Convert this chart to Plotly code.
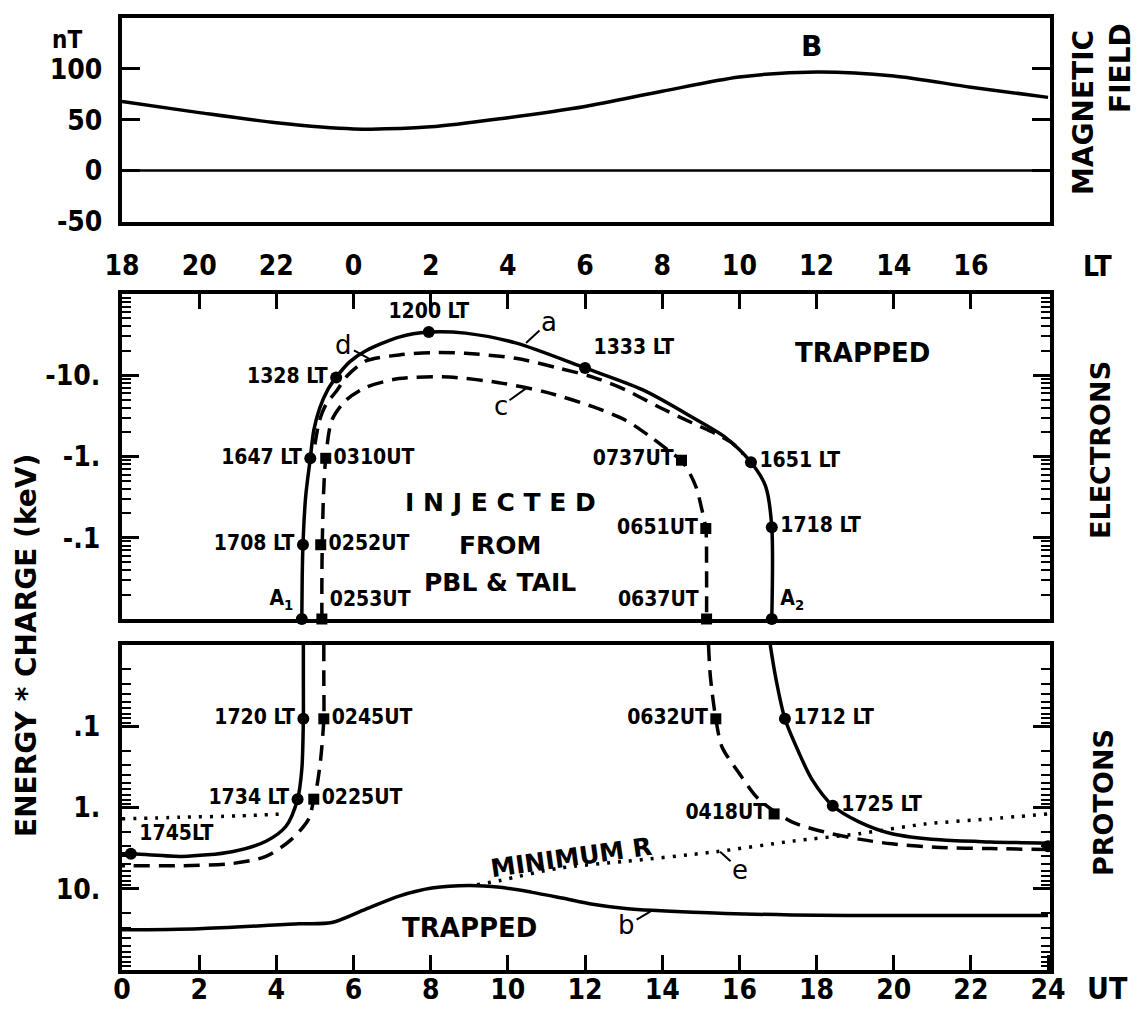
import numpy as np
import plotly.graph_objects as go

# Browser page has an 8px body margin; the figure is sized to fit inside it.
OFF = 8
W, H = 1142 - OFF, 1011 - OFF

# ---------------- DATA ----------------
# Top panel: magnetic field B (nT) versus UT (h)
b_ut = [0, 2, 4, 6, 8, 10, 12, 14, 16, 18, 20, 22, 24]
b_nt = [68, 57, 47, 41, 43, 52, 63, 78, 92, 97, 93, 82, 72]
zero_ut = [0, 24]
zero_nt = [0, 0]

# Middle panel: electrons, |energy*charge| (keV); electrons are negative
elec_a_ut = [4.66, 4.67, 4.69, 4.76, 4.88, 4.97, 5.12, 5.33, 5.55, 5.9, 6.32, 7.18, 7.95,
             8.9, 10.2, 12.0, 13.5, 14.8, 15.65, 16.3, 16.68, 16.84, 16.84]
elec_a_kev = [0.01, 0.032, 0.082, 0.32, 0.95, 2.1, 3.9, 6.6, 9.4, 14.6, 20, 29.5, 34,
              33, 25, 12.3, 6.6, 3.0, 1.7, 0.85, 0.43, 0.135, 0.01]

elec_c_ut = [5.18, 5.18, 5.19, 5.22, 5.28, 5.44, 5.8, 6.32, 7.18, 8.47, 9.77, 10.98, 12.2,
             13.05, 13.7, 14.15, 14.55, 14.87, 15.03, 15.13, 15.15, 15.15]
elec_c_kev = [0.01, 0.032, 0.081, 0.32, 0.95, 2.8, 4.9, 7.1, 9.1, 9.5, 8.1, 6.2, 4.1,
              2.8, 1.74, 1.2, 0.83, 0.43, 0.22, 0.13, 0.041, 0.01]

elec_d_ut = [5.0, 5.12, 5.3, 5.55, 5.85, 6.32, 7.18, 8.03, 8.9, 10.2, 11.3, 12.2, 13.05,
             13.9, 14.77, 15.39, 15.8, 16.1]
elec_d_kev = [1.41, 2.8, 4.5, 6.3, 10, 15, 17.8, 19, 18.6, 16.2, 12.3, 9.5, 6.6,
              4.1, 2.6, 1.9, 1.48, 1.07]

elec_circle_labels = ["A<sub>1</sub>", "1708 LT", "1647 LT", "1328 LT", "1200 LT",
                      "1333 LT", "1651 LT", "1718 LT", "A<sub>2</sub>"]
elec_circle_ut = [4.66, 4.69, 4.88, 5.55, 7.95, 12.0, 16.3, 16.84, 16.84]
elec_circle_kev = [0.01, 0.082, 0.95, 9.4, 34, 12.3, 0.85, 0.135, 0.01]

elec_square_labels = ["0253UT", "0252UT", "0310UT", "0737UT", "0651UT", "0637UT"]
elec_square_ut = [5.18, 5.15, 5.28, 14.5, 15.13, 15.15]
elec_square_kev = [0.01, 0.082, 0.95, 0.9, 0.13, 0.01]

# Bottom panel: protons, energy*charge (keV)
prot_a_left_ut = [4.70, 4.70, 4.70, 4.66, 4.55, 4.25, 3.73, 2.85, 1.55, 0.23, 0]
prot_a_left_kev = [0.01, 0.025, 0.081, 0.34, 0.79, 1.7, 2.6, 3.5, 4.0, 3.7, 3.7]
prot_a_right_ut = [16.8, 16.94, 17.18, 17.54, 17.88, 18.42, 19.1, 19.95, 21.2, 22.5, 24]
prot_a_right_kev = [0.01, 0.025, 0.081, 0.21, 0.45, 0.95, 1.5, 2.1, 2.5, 2.65, 2.75]

prot_d_left_ut = [5.23, 5.23, 5.23, 5.15, 5.05, 4.97, 4.84, 4.4, 3.73, 2.85, 1.55, 0.27, 0]
prot_d_left_kev = [0.01, 0.025, 0.081, 0.25, 0.55, 0.79, 1.38, 2.45, 4.0, 4.9, 5.2, 5.2, 5.2]
prot_d_right_ut = [15.2, 15.25, 15.39, 15.55, 15.98, 16.5, 17.36, 18.2, 19.1, 19.95, 21.2, 22.5, 24]
prot_d_right_kev = [0.01, 0.025, 0.081, 0.18, 0.37, 0.79, 1.5, 2.0, 2.45, 2.8, 3.1, 3.2, 3.3]

prot_e_left_ut = [0, 1.5, 3.0, 4.2]
prot_e_left_kev = [1.38, 1.32, 1.27, 1.2]
prot_e_right_ut = [9.2, 9.8, 11.3, 13.05, 15.4, 17.36, 19.1, 20.8, 22.5, 24]
prot_e_right_kev = [8.9, 7.9, 5.6, 4.6, 3.5, 2.6, 2.1, 1.6, 1.38, 1.2]

prot_b_ut = [0, 2, 4.6, 5.44, 6.32, 7.18, 8.03, 9.0, 9.8, 10.6, 11.4, 12.2, 13.05, 14.8, 17.36, 20, 24]
prot_b_kev = [32, 31, 27, 26, 17.8, 12.3, 9.8, 9.1, 9.6, 11.0, 13.0, 15.5, 17.5, 19.5, 21, 21.4, 21.4]

prot_circle_labels = ["1720 LT", "1734 LT", "1745LT", "1712 LT", "1725 LT"]
prot_circle_ut = [4.70, 4.55, 0.23, 17.18, 18.42]
prot_circle_kev = [0.081, 0.79, 3.7, 0.081, 0.95]
prot_end_ut = [24]
prot_end_kev = [3.0]

prot_square_labels = ["0245UT", "0225UT", "0632UT", "0418UT"]
prot_square_ut = [5.23, 4.97, 15.39, 16.9]
prot_square_kev = [0.081, 0.79, 0.081, 1.2]

# Axis ticks
ut_ticks = list(range(0, 25, 2))
lt_tick_ut = list(range(0, 23, 2))
lt_tick_labels = ["18", "20", "22", "0", "2", "4", "6", "8", "10", "12", "14", "16"]
elec_tickvals = [0.1, 1, 10]
elec_ticktext = ["-.1", "-1.", "-10."]
prot_tickvals = [0.1, 1, 10]
prot_ticktext = [".1", "1.", "10."]
b_tickvals = [-50, 0, 50, 100]
b_ticktext = ["-50", "0", "50", "100"]

# ---------------- FIGURE ----------------
FONT = "Liberation Sans Narrow, DejaVu Sans Condensed, Arial Narrow, Liberation Sans, sans-serif"
WIDE = "DejaVu Sans, Liberation Sans, sans-serif"

fig = go.Figure()


def px_x(p):
    return (p - OFF) / W


def px_y(p):
    return 1 - (p - OFF) / H


def add_line(x, y, xa, ya, dash="solid", width=3.5):
    fig.add_trace(go.Scatter(
        x=x, y=y, xaxis=xa, yaxis=ya, mode="lines",
        line=dict(color="black", width=width, dash=dash, shape="spline", smoothing=0.8),
        showlegend=False, hoverinfo="skip"))


def add_markers(x, y, labels, positions, xa, ya, symbol):
    fig.add_trace(go.Scatter(
        x=x, y=y, xaxis=xa, yaxis=ya, mode="markers+text" if labels else "markers",
        marker=dict(symbol=symbol, size=12 if symbol == "circle" else 11, color="black"),
        text=labels, textposition=positions,
        textfont=dict(family=FONT, size=21, color="black", weight="bold"),
        cliponaxis=False, showlegend=False, hoverinfo="skip"))


DASH = "16px,9px"
DOT = "3px,8px"

# top panel
add_line(zero_ut, zero_nt, "x3", "y3", width=2.5)
add_line(b_ut, b_nt, "x3", "y3", width=3.5)

# middle panel
add_line(elec_a_ut, elec_a_kev, "x2", "y2")
add_line(elec_d_ut, elec_d_kev, "x2", "y2", dash=DASH, width=3.5)
add_line(elec_c_ut, elec_c_kev, "x2", "y2", dash=DASH, width=3.5)
add_markers(elec_circle_ut, elec_circle_kev, elec_circle_labels,
            ["top left", "middle left", "middle left", "middle left", "top center",
             "top right", "middle right", "middle right", "top right"], "x2", "y2", "circle")
add_markers(elec_square_ut, elec_square_kev, elec_square_labels,
            ["top right", "middle right", "middle right", "middle left", "middle left", "top left"],
            "x2", "y2", "square")

# bottom panel
add_line(prot_a_left_ut, prot_a_left_kev, "x", "y")
add_line(prot_a_right_ut, prot_a_right_kev, "x", "y")
add_line(prot_d_left_ut, prot_d_left_kev, "x", "y", dash=DASH)
add_line(prot_d_right_ut, prot_d_right_kev, "x", "y", dash=DASH)
add_line(prot_e_left_ut, prot_e_left_kev, "x", "y", dash=DOT, width=3.5)
add_line(prot_e_right_ut, prot_e_right_kev, "x", "y", dash=DOT, width=3.5)
add_line(prot_b_ut, prot_b_kev, "x", "y")
add_markers(prot_circle_ut, prot_circle_kev, prot_circle_labels,
            ["middle left", "middle left", "top right", "middle right", "middle right"],
            "x", "y", "circle")
add_markers(prot_end_ut, prot_end_kev, None, None, "x", "y", "circle")
add_markers(prot_square_ut, prot_square_kev, prot_square_labels,
            ["middle right", "middle right", "middle left", "middle left"], "x", "y", "square")

# empty traces so the right-hand tick axes are drawn
for ya, xa in (("y4", "x2"), ("y5", "x")):
    fig.add_trace(go.Scatter(x=[None], y=[None], xaxis=xa, yaxis=ya, mode="lines",
                             showlegend=False, hoverinfo="skip"))

xdom = [px_x(122), px_x(1050)]


def ydom(top, bot):
    return [px_y(bot), px_y(top)]


tickfont = dict(family=FONT, size=28, color="black", weight="bold")
base = dict(showline=True, linewidth=4, linecolor="black", showgrid=False, zeroline=False,
            tickfont=tickfont, ticks="inside", tickcolor="black", tickwidth=3,
            showticklabels=True)
minor = dict(ticks="inside", ticklen=9, tickwidth=2, tickcolor="black", dtick="D1",
             showgrid=False)
right = dict(showline=False, showgrid=False, zeroline=False, ticks="inside", tickcolor="black",
             tickwidth=3, ticklen=17, showticklabels=False, side="right", type="log",
             tickmode="array", minor=minor)

fig.update_layout(
    template="none",
    width=W, height=H, margin=dict(l=0, r=0, t=0, b=0),
    paper_bgcolor="white", plot_bgcolor="white", showlegend=False,
    xaxis=dict(**base, domain=xdom, range=[0, 24.05], anchor="y", mirror=True,
               tickmode="array", tickvals=ut_ticks, ticktext=[str(t) for t in ut_ticks],
               ticklen=15, ticklabelstandoff=-9),
    yaxis=dict(**base, domain=ydom(645, 970), anchor="x", mirror=True, type="log",
               range=[2, -2], tickmode="array", tickvals=prot_tickvals,
               ticktext=prot_ticktext, ticklen=17, minor=minor, ticklabelstandoff=12),
    yaxis5=dict(**right, overlaying="y", anchor="x", range=[2, -2], tickvals=prot_tickvals),
    xaxis2=dict(**base, domain=xdom, range=[0, 24.05], anchor="y2", side="top", mirror=True,
                tickmode="array", tickvals=lt_tick_ut, ticktext=lt_tick_labels, ticklen=15,
                ticklabelstandoff=4),
    yaxis2=dict(**base, domain=ydom(294, 619), anchor="x2", mirror=True, type="log",
                range=[-2, 2], tickmode="array", tickvals=elec_tickvals,
                ticktext=elec_ticktext, ticklen=17, minor=minor, ticklabelstandoff=12),
    yaxis4=dict(**right, overlaying="y2", anchor="x2", range=[-2, 2], tickvals=elec_tickvals),
    xaxis3=dict(showline=True, linewidth=4, linecolor="black", mirror=True, showgrid=False,
                zeroline=False, domain=xdom, range=[0, 24.05], anchor="y3",
                showticklabels=False, ticks=""),
    yaxis3=dict(**base, domain=ydom(18, 222), anchor="x3", mirror="ticks", range=[-50.5, 150],
                tickmode="array", tickvals=b_tickvals, ticktext=b_ticktext, ticklen=18,
                ticklabelstandoff=10),
)

ann = []


def text(x, y, s, xref="paper", yref="paper", size=26, angle=0, family=WIDE, weight="normal"):
    ann.append(dict(x=x, y=y, xref=xref, yref=yref, text=s, showarrow=False,
                    textangle=angle, font=dict(family=family, size=size, color="black", weight=weight),
                    xanchor="center", yanchor="middle"))


def pointer(x, y, s, xref, yref, ax, ay):
    ann.append(dict(x=x, y=y, xref=xref, yref=yref, text=s, showarrow=True, arrowhead=0,
                    arrowwidth=2, arrowcolor="black", ax=ax, ay=ay, standoff=0,
                    font=dict(family=WIDE, size=26, color="black")))


lg = np.log10
# in-plot labels
text(17.87, 122, "B", "x3", "y3", size=28, weight="bold")
text(19.2, lg(18.6), "TRAPPED", "x2", "y2", size=26, weight="bold")
text(9.8, lg(0.27), "I N J E C T E D", "x2", "y2", size=25, weight="bold")
text(9.8, lg(0.081), "FROM", "x2", "y2", size=25, weight="bold")
text(9.8, lg(0.0285), "PBL &amp; TAIL", "x2", "y2", size=25, weight="bold")
text(9.0, lg(30), "TRAPPED", "x", "y", size=26, weight="bold")
text(11.63, lg(4.1), "MINIMUM R", "x", "y", size=25, angle=-8, weight="bold")
pointer(10.47, lg(25), "a", "x2", "y2", 23, -21)
pointer(6.4, lg(16), "d", "x2", "y2", -25, -14)
pointer(10.47, lg(6.9), "c", "x2", "y2", -25, 18)
pointer(15.5, lg(3.5), "e", "x", "y", 20, 18)
pointer(13.7, lg(19), "b", "x", "y", -24, 14)

# outer labels
text(px_x(67), px_y(40), "nT", size=24, family=FONT, weight="bold")
text(px_x(1083), px_y(113), "MAGNETIC", size=28, angle=-90, weight="bold")
text(px_x(1120), px_y(68), "FIELD", size=28, angle=-90, weight="bold")
text(px_x(1097), px_y(267), "LT", size=28, family=FONT, weight="bold")
text(px_x(1107), px_y(988), "UT", size=30, family=FONT, weight="bold")
text(px_x(1101), px_y(450), "ELECTRONS", size=27, angle=-90, weight="bold")
text(px_x(1103), px_y(803), "PROTONS", size=27, angle=-90, weight="bold")
text(px_x(26), px_y(646), "ENERGY * CHARGE (keV)", size=28, angle=-90, weight="bold")

fig.update_layout(annotations=ann)
fig.write_html("out.html")
